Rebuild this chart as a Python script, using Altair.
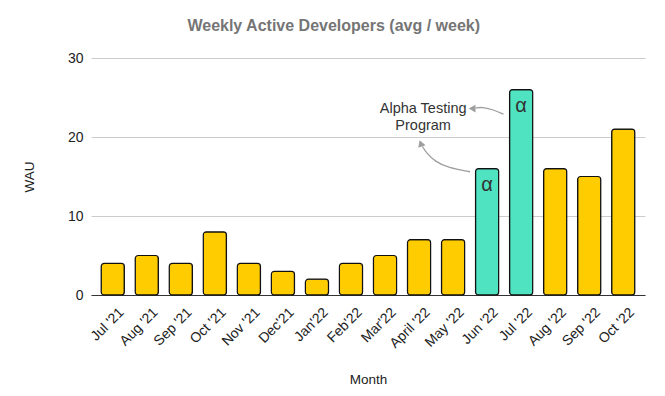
import altair as alt
import pandas as pd

months = ["Jul '21", "Aug '21", "Sep '21", "Oct '21", "Nov '21", "Dec'21", "Jan'22", "Feb'22",
          "Mar'22", "April '22", "May '22", "Jun '22", "Jul '22", "Aug '22", "Sep '22", "Oct '22"]
wau = [4, 5, 4, 8, 4, 3, 2, 4, 5, 7, 7, 16, 26, 16, 15, 21]
phase = ["regular"] * 11 + ["alpha", "alpha"] + ["regular"] * 3

# annotation geometry in (month index, WAU) units
arrow1_x = [11.48, 11.15, 10.85, 10.66]
arrow1_y = [22.9, 23.5, 23.8, 23.67]
arrow2_x = [10.50, 9.86, 9.47, 9.21, 9.10]
arrow2_y = [15.6, 16.1, 16.9, 18.0, 18.8]
head_x = [10.56, 9.05]
head_y = [23.6, 19.2]
head_shape = ["triangle-left", "triangle-up"]
head_angle = [0, 340]
label_x = [9.12]
label_y = [23.55]
label_text = ["Alpha Testing\nProgram"]

df = pd.DataFrame({"Month": months, "WAU": wau, "phase": phase})
df["alpha_label"] = ["α" if p == "alpha" else "" for p in phase]

FONT = "Liberation Sans"
W, H = 554, 237

xband = alt.X("Month:N", sort=months, title="Month",
              scale=alt.Scale(paddingInner=0.32, paddingOuter=0.3),
              axis=alt.Axis(labelAngle=-45, labelAlign="right", labelBaseline="top",
                            labelFontSize=14, labelColor="#222", labelFont=FONT,
                            ticks=False, domainColor="#333", domainWidth=1.2,
                            titleFont=FONT, titleFontSize=13.5, titleFontWeight="normal",
                            titleColor="#222", titlePadding=22, labelPadding=10,
                            labelOffset=4))
yscale = alt.Scale(domain=[0, 30], nice=False)
yax = alt.Y("WAU:Q", title="WAU", scale=yscale,
            axis=alt.Axis(values=[0, 10, 20, 30], labelFontSize=14, labelColor="#222",
                          labelFont=FONT, ticks=False, domain=False, gridColor="#cccccc",
                          labelPadding=8, titleFont=FONT, titleFontSize=13.5,
                          titleFontWeight="normal", titleColor="#222", titlePadding=31))

bars = alt.Chart(df).mark_bar(cornerRadius=3, stroke="#111", strokeWidth=1.2).encode(
    x=xband, y=yax,
    color=alt.Color("phase:N", scale=alt.Scale(domain=["regular", "alpha"],
                                               range=["#ffcc00", "#4fe3c2"]), legend=None),
)
alpha_txt = alt.Chart(df).mark_text(font=FONT, fontSize=20, color="#333", baseline="top", dy=6).encode(
    x=alt.X("Month:N", sort=months), y=alt.Y("WAU:Q", scale=yscale), text="alpha_label:N")

base = alt.layer(bars, alpha_txt)

ux = alt.Scale(domain=[-0.64, 15.64], nice=False, zero=False)
a1 = pd.DataFrame({"u": arrow1_x, "v": arrow1_y, "o": range(len(arrow1_x))})
a2 = pd.DataFrame({"u": arrow2_x, "v": arrow2_y, "o": range(len(arrow2_x))})
heads = pd.DataFrame({"u": head_x, "v": head_y, "s": head_shape, "a": head_angle})
lab = pd.DataFrame({"u": label_x, "v": label_y, "t": label_text})

def arrow_line(d):
    return alt.Chart(d).mark_line(color="#9e9e9e", strokeWidth=1.3, interpolate="basis").encode(
        x=alt.X("u:Q", scale=ux, axis=None), y=alt.Y("v:Q", scale=yscale), order="o:Q")

heads_mark = alt.Chart(heads).mark_point(filled=True, color="#9e9e9e", opacity=1, size=60).encode(
    x=alt.X("u:Q", scale=ux, axis=None), y=alt.Y("v:Q", scale=yscale),
    shape=alt.Shape("s:N", scale=None), angle=alt.Angle("a:Q", scale=None))
label_mark = alt.Chart(lab).mark_text(font=FONT, fontSize=14.5, color="#333", lineBreak="\n",
                                      lineHeight=17, align="center", baseline="middle").encode(
    x=alt.X("u:Q", scale=ux, axis=None), y=alt.Y("v:Q", scale=yscale), text="t:N")

annot = alt.layer(arrow_line(a1), arrow_line(a2), heads_mark, label_mark)

chart = alt.layer(base, annot).resolve_scale(x="independent").properties(
    width=W, height=H,
    title=alt.TitleParams("Weekly Active Developers (avg / week)", font=FONT, fontSize=16,
                          fontWeight="bold", color="#757575", anchor="middle", frame="bounds",
                          offset=17),
    padding={"left": 14, "top": 10, "right": 10, "bottom": 5},
).configure_view(stroke=None)

chart.save("out.html", embed_options={"renderer": "svg", "actions": False})
